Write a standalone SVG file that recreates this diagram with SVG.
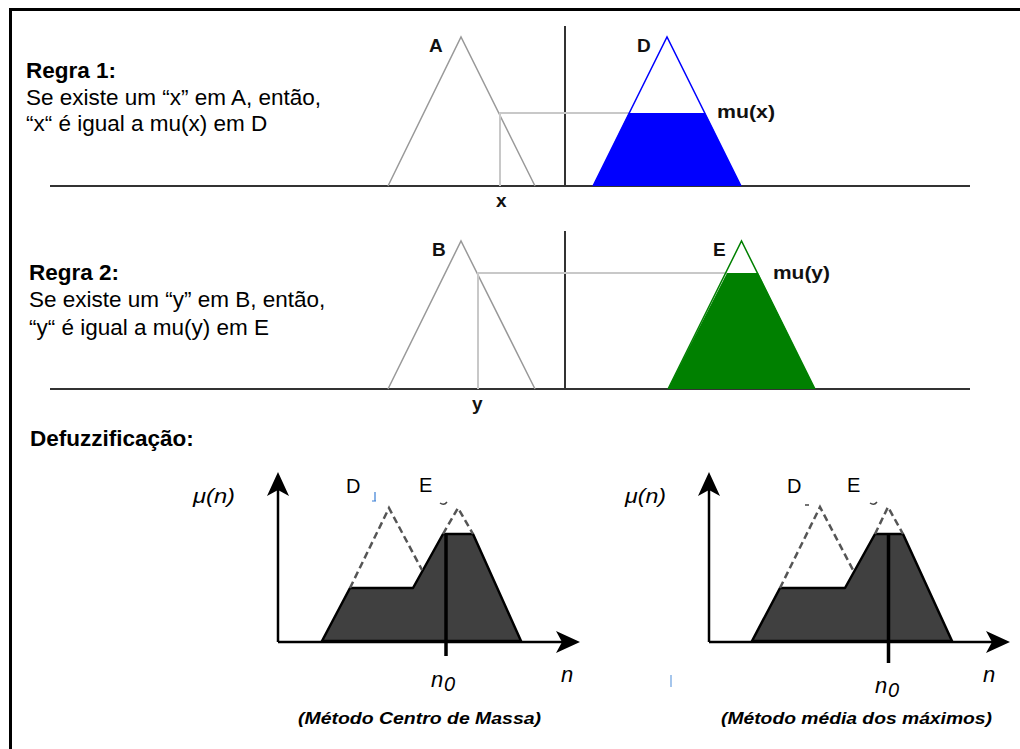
<svg xmlns="http://www.w3.org/2000/svg" width="1020" height="749" viewBox="0 0 1020 749">
<style>
  .t { font-family: "Liberation Sans", Arial, sans-serif; fill: #000; }
  .rule { font-size: 22.5px; }
  .b { font-weight: bold; }
  .lbl { font-family: "Liberation Sans", Arial, sans-serif; font-weight: bold; font-size: 19px; fill: #111; }
  .axis { stroke: #333; stroke-width: 2; fill: none; }
  .tri { stroke: #999; stroke-width: 1.5; fill: none; }
  .guide { stroke: #c8c8c8; stroke-width: 2; fill: none; }
  .ax2 { stroke: #000; stroke-width: 2.5; fill: none; }
  .area { fill: #404040; stroke: #000; stroke-width: 2.5; stroke-linejoin: round; }
  .dash { stroke: #555; stroke-width: 2.5; fill: none; stroke-dasharray: 7 4; }
  .it { font-family: "Liberation Sans", Arial, sans-serif; font-style: italic; font-size: 20px; fill: #000; }
  .nn { font-size: 22px; }
  .cap { font-family: "Liberation Sans", Arial, sans-serif; font-style: italic; font-weight: bold; font-size: 16px; fill: #000; }
  .reg { font-family: "Liberation Sans", Arial, sans-serif; font-size: 20px; fill: #000; }
</style>
<rect x="0" y="0" width="1020" height="749" fill="#fff"/>
<!-- frame -->
<path d="M10.5 760 V9.5 H1030" fill="none" stroke="#000" stroke-width="3"/>

<!-- Rule 1 text -->
<g id="rule1-text">
  <text class="t rule b" x="26" y="78">Regra 1:</text>
  <text class="t rule" x="26" y="105">Se existe um “x” em A, então,</text>
  <text class="t rule" x="26" y="131">“x“ é igual a mu(x) em D</text>
</g>
<!-- Rule 2 text -->
<g id="rule2-text">
  <text class="t rule b" x="29" y="280">Regra 2:</text>
  <text class="t rule" x="29" y="307">Se existe um “y” em B, então,</text>
  <text class="t rule" x="29" y="335">“y“ é igual a mu(y) em E</text>
</g>
<g id="defuzz-title">
  <text class="t rule b" x="30" y="446">Defuzzificação:</text>
</g>

<!-- Panel 1 -->
<g id="panel1">
  <line class="axis" x1="50" y1="186" x2="970" y2="186"/>
  <line class="axis" x1="565" y1="26" x2="565" y2="186"/>
  <polyline class="tri" points="388,186 461,37 535,186"/>
  <polyline class="guide" points="629,113 500,113 500,186"/>
  <polygon points="593,186 629,113 705,113 741,186" fill="#0000ff"/>
  <polyline points="593,186 667,37 741,186" fill="none" stroke="#0000ff" stroke-width="1.5"/>
  <text class="lbl" x="429" y="52">A</text>
  <text class="lbl" x="637" y="52">D</text>
  <text class="lbl" x="717" y="118" textLength="58" lengthAdjust="spacingAndGlyphs">mu(x)</text>
  <text class="lbl" x="496" y="207">x</text>
</g>

<!-- Panel 2 -->
<g id="panel2">
  <line class="axis" x1="50" y1="389" x2="970" y2="389"/>
  <line class="axis" x1="565" y1="231" x2="565" y2="389"/>
  <polyline class="tri" points="388,389 461,241 535,389"/>
  <polyline class="guide" points="727,273 478,273 478,389"/>
  <polygon points="668,389 727,273 758,273 815,389" fill="#008000"/>
  <polyline points="668,389 741.5,241 815,389" fill="none" stroke="#008000" stroke-width="1.5"/>
  <text class="lbl" x="432" y="256">B</text>
  <text class="lbl" x="713" y="256">E</text>
  <text class="lbl" x="773" y="279" textLength="57" lengthAdjust="spacingAndGlyphs">mu(y)</text>
  <text class="lbl" x="472" y="410">y</text>
</g>

<!-- Defuzz left: centro de massa -->
<g id="graph-centro">
  <polygon class="area" points="322,641 350,588 413,588 443,534 473,534 521,641"/>
  <polyline class="dash" points="350,588 389,508 422,570"/>
  <polyline class="dash" points="443,534 458,508 473,534"/>
  <line x1="446" y1="534" x2="446" y2="656" stroke="#000" stroke-width="3.5"/>
  <line class="ax2" x1="278" y1="642" x2="278" y2="489"/>
  <polygon points="278,472 267,496 278,490 289,496" fill="#000"/>
  <line class="ax2" x1="278" y1="642" x2="563" y2="642"/>
  <polygon points="580,642 556,631 562,642 556,653" fill="#000"/>
  <text class="it" x="193" y="503" textLength="42" lengthAdjust="spacingAndGlyphs">μ(n)</text>
  <text class="reg" x="346" y="493">D</text>
  <text class="reg" x="419" y="492">E</text>
  <path d="M375 492 V501 M372 501 H376" stroke="#3a7fd5" stroke-width="1.2" fill="none"/>
  <path d="M440 503 Q444 506 447 502" stroke="#444" stroke-width="1.5" fill="none"/>
  <text class="it nn" x="431" y="687">n</text>
  <text class="it" x="444" y="691" font-size="14">0</text>
  <text class="it nn" x="561" y="682">n</text>
  <text class="cap" x="298" y="724" textLength="243" lengthAdjust="spacingAndGlyphs">(Método Centro de Massa)</text>
</g>

<!-- Defuzz right: media dos maximos -->
<g id="graph-media">
  <polygon class="area" points="752,641 780,588 845,588 875,534 903,534 952,641"/>
  <polyline class="dash" points="780,588 820,507 853,570"/>
  <polyline class="dash" points="875,534 888,507 903,534"/>
  <line x1="888.5" y1="534" x2="888.5" y2="663" stroke="#000" stroke-width="3.5"/>
  <line class="ax2" x1="709" y1="642" x2="709" y2="489"/>
  <polygon points="709,472 698,496 709,490 720,496" fill="#000"/>
  <line class="ax2" x1="709" y1="642" x2="993" y2="642"/>
  <polygon points="1010,642 986,631 992,642 986,653" fill="#000"/>
  <text class="it" x="625" y="503" textLength="41" lengthAdjust="spacingAndGlyphs">μ(n)</text>
  <text class="reg" x="787" y="493">D</text>
  <text class="reg" x="847" y="492">E</text>
  <path d="M805 505 H809" stroke="#444" stroke-width="1.5" fill="none"/>
  <path d="M870 503 Q874 506 877 502" stroke="#444" stroke-width="1.5" fill="none"/>
  <line x1="671" y1="675" x2="671" y2="687" stroke="#6aa0e0" stroke-width="1.2"/>
  <text class="it nn" x="875" y="693">n</text>
  <text class="it" x="888" y="697" font-size="14">0</text>
  <text class="it nn" x="983" y="682">n</text>
  <text class="cap" x="721" y="724" textLength="271" lengthAdjust="spacingAndGlyphs">(Método média dos máximos)</text>
</g>
</svg>
